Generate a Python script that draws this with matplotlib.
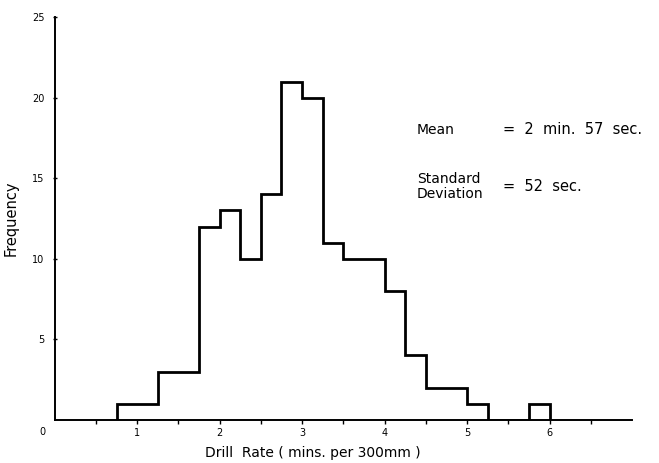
import matplotlib
matplotlib.use("Agg")
import matplotlib.pyplot as plt

# drill rate histogram, bins 0.25 min wide
bin_edges = [0.75, 1.0, 1.25, 1.5, 1.75, 2.0, 2.25, 2.5, 2.75, 3.0, 3.25,
             3.5, 3.75, 4.0, 4.25, 4.5, 4.75, 5.0, 5.25, 5.5, 5.75, 6.0]
counts = [1, 1, 3, 3, 12, 13, 10, 14, 21, 20, 11,
          10, 10, 8, 4, 2, 2, 1, 0, 0, 1]

x_ticks = [1, 2, 3, 4, 5, 6]
x_minor = [0.5, 1.5, 2.5, 3.5, 4.5, 5.5, 6.5]
y_ticks = [5, 10, 15, 20, 25]

stats_labels = ["Mean", "Standard\nDeviation"]
stats_values = ["=  2  min.  57  sec.", "=  52  sec."]

plt.rcParams['font.family'] = ['DejaVu Sans']

fig = plt.figure(figsize=(6.59, 4.63), dpi=100)
ax = fig.add_axes([0.083, 0.093, 0.876, 0.87])

ax.stairs(counts, bin_edges, color='black', linewidth=2.0)

ax.set_xlim(0, 7)
ax.set_ylim(0, 25)
ax.spines['top'].set_visible(False)
ax.spines['right'].set_visible(False)
ax.spines['left'].set_linewidth(1.4)
ax.spines['bottom'].set_linewidth(1.4)

ax.set_xticks(x_ticks)
ax.set_xticks(x_minor, minor=True)
ax.set_yticks(y_ticks)
ax.tick_params(axis='x', which='both', direction='out', length=3, width=1,
               labelsize=7, pad=3)
ax.tick_params(axis='y', direction='inout', length=3, width=1,
               labelsize=7, pad=6)
ax.text(-0.022, -0.03, "0", transform=ax.transAxes, ha='center', va='center', fontsize=7)

ax.set_xlabel("Drill  Rate ( mins. per 300mm )", fontsize=10)
ax.xaxis.set_label_coords(0.447, -0.065)
ax.set_ylabel("Frequency", fontsize=10.5)
ax.yaxis.set_label_coords(-0.063, 0.50)

y_pos = [0.72, 0.58]
for lab, val, yp in zip(stats_labels, stats_values, y_pos):
    ax.text(0.627, yp, lab, transform=ax.transAxes, fontsize=10,
            va='center', ha='left', linespacing=1.05)
    ax.text(0.776, yp, val, transform=ax.transAxes, fontsize=10.5,
            va='center', ha='left')

fig.savefig("out.png", dpi=100)
